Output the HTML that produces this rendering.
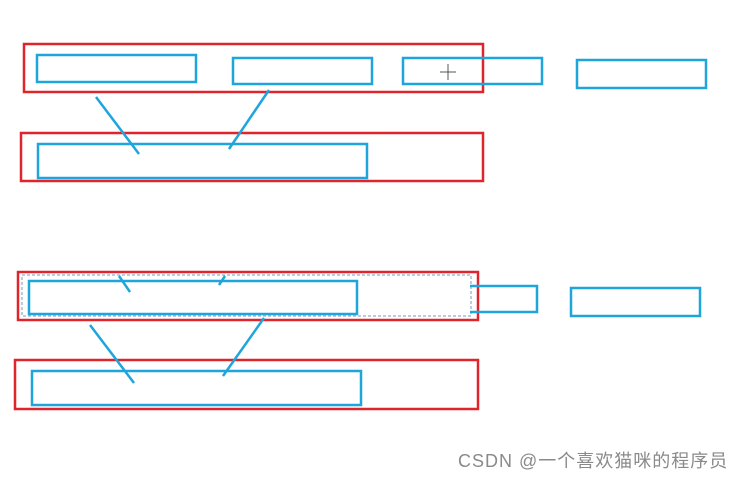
<!DOCTYPE html>
<html><head><meta charset="utf-8"><style>
body{margin:0;width:745px;height:477px;background:#fff;overflow:hidden;position:relative}
svg{position:absolute;left:0;top:0}
.wm{position:absolute;left:458px;top:447px;font:18px "Liberation Sans","Noto Sans CJK SC",sans-serif;letter-spacing:1px;color:#8a8a8a;white-space:nowrap}
</style></head><body>
<svg width="745" height="477" fill="none">
<g stroke="#e0242c" stroke-width="2.5">
<rect x="24" y="44" width="459" height="48"/>
<rect x="21" y="133" width="462" height="48"/>
<rect x="18" y="272" width="460" height="48"/>
<rect x="15" y="360" width="463" height="49"/>
</g>
<rect x="22" y="275" width="449" height="41" stroke="#7a9ab8" stroke-width="1" stroke-dasharray="3,2"/>
<g stroke="#1ea5dc" stroke-width="2.5">
<rect x="37" y="55" width="159" height="27"/>
<rect x="233" y="58" width="139" height="26"/>
<rect x="403" y="58" width="139" height="26"/>
<rect x="577" y="60" width="129" height="28"/>
<rect x="38" y="144" width="329" height="34"/>
<line x1="96" y1="97" x2="139" y2="154"/>
<line x1="269" y1="90" x2="229" y2="149"/>
<rect x="29" y="281" width="328" height="33"/>
<line x1="119" y1="276" x2="130" y2="292"/>
<line x1="225" y1="276" x2="219" y2="285"/>
<polyline points="470,286 537,286 537,312 470,312"/>
<rect x="571" y="288" width="129" height="28"/>
<line x1="90" y1="325" x2="134" y2="383"/>
<line x1="264" y1="318" x2="223" y2="376"/>
<rect x="32" y="371" width="329" height="34"/>
</g>
<g stroke="#555" stroke-width="1"><line x1="448" y1="64" x2="448" y2="80"/><line x1="440" y1="72" x2="456" y2="72"/></g>
</svg>
<div class="wm">CSDN @一个喜欢猫咪的程序员</div>
</body></html>
